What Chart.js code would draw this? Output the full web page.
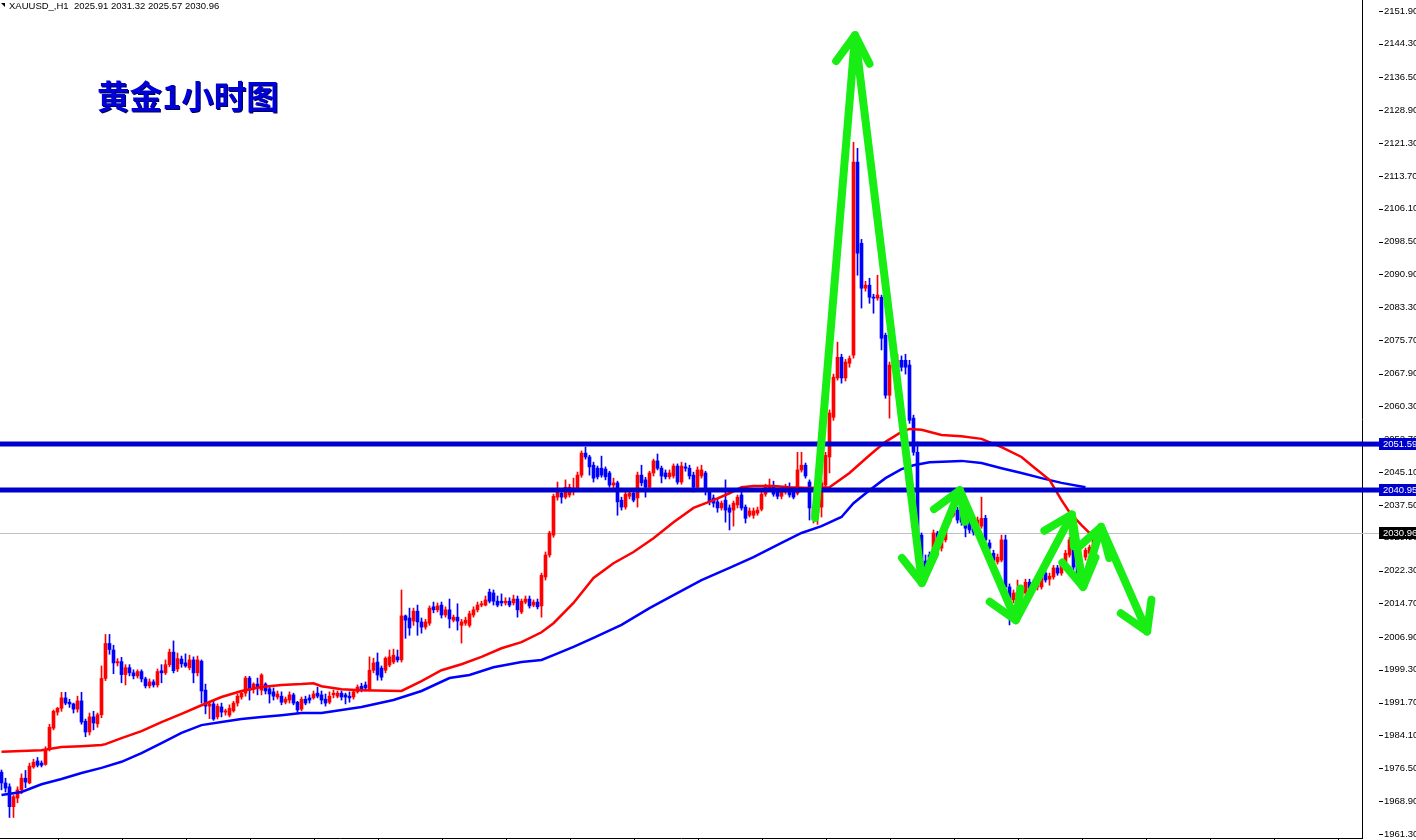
<!DOCTYPE html>
<html>
<head>
<meta charset="utf-8">
<script src="https://cdn.jsdelivr.net/npm/chart.js@4.4.0/dist/chart.umd.min.js"></script>
<style>
  html, body { margin: 0; padding: 0; background: #fff; }
  #wrap { position: relative; width: 1416px; height: 840px; overflow: hidden; }
  #c { position: absolute; left: 0; top: 0; }
  #hdr { position: absolute; left: 9px; top: 0; font: 9.5px 'Liberation Sans', sans-serif; line-height: 11px; color: #000; white-space: pre; }
  #mark { position: absolute; left: 1px; top: 3px; width: 0; height: 0; border-top: 4px solid #000; border-left: 4px solid transparent; }
  #title { position: absolute; left: 97px; top: 78px; font: bold 32.5px 'Noto Sans CJK SC', sans-serif; line-height: 33px; color: #0000d8; text-shadow: 1px 1px 0 #000050; }
</style>
</head>
<body>
<div id="wrap">
  <canvas id="c" width="1416" height="840"></canvas>
  <div id="mark"></div>
  <div id="hdr">XAUUSD_,H1  2025.91 2031.32 2025.57 2030.96</div>
  <div id="title">黄金1小时图</div>
</div>
<script>
// XAUUSD H1 candles, one entry per bar (oldest first)
const open = [
  1975.6,1973.1,1972.2,1967.6,1969.6,1971.5,1974.2,1973.1,1976.8,1978.2,
  1977.7,1977.4,1980.9,1985.8,1989.5,1990.4,1992.8,1991.8,1991.4,1990.2,
  1992.1,1987.4,1984.9,1988.4,1986.8,1988.9,1997.3,2005.4,2003.9,2000.9,
  2001.2,1998.2,1999.8,1998.6,1997.9,1998.9,1997.2,1995.6,1996.5,1995.8,
  1999.1,1998.6,2000.5,2003.4,1999.5,2001.8,2000.9,1999.8,2001.6,1998.6,
  2001.3,1994.6,1990.9,1991.4,1988.4,1990.7,1989.5,1988.8,1989.8,1991.6,
  1993.0,1993.9,1997.4,1994.9,1996.0,1994.6,1996.0,1994.9,1994.2,1993.0,
  1993.2,1991.8,1992.3,1993.5,1991.8,1990.2,1992.5,1992.8,1992.8,1993.9,
  1993.5,1992.5,1991.8,1993.5,1993.2,1993.9,1993.5,1993.2,1993.0,1994.2,
  1995.5,1995.8,1994.6,1999.2,2001.1,1999.7,1999.2,2000.4,2001.1,2002.3,
  2001.6,2011.8,2011.3,2010.6,2012.9,2010.4,2009.2,2010.1,2013.9,2013.2,
  2014.3,2012.0,2013.2,2010.8,2011.5,2009.6,2010.1,2009.6,2012.0,2013.2,
  2014.3,2014.3,2017.3,2017.1,2015.2,2015.2,2014.8,2015.2,2014.8,2015.7,
  2012.7,2015.0,2015.7,2014.3,2015.0,2014.1,2020.8,2025.9,2030.5,2039.3,
  2040.2,2039.3,2039.8,2040.7,2041.4,2044.4,2049.5,2048.6,2046.7,2046.0,
  2046.0,2045.8,2044.9,2042.1,2042.6,2038.6,2037.0,2039.5,2040.2,2039.1,
  2044.4,2043.3,2041.6,2044.9,2047.7,2046.0,2044.9,2044.0,2044.2,2046.5,
  2042.8,2046.3,2046.0,2044.4,2041.6,2044.2,2044.9,2040.5,2039.1,2038.2,
  2036.8,2038.6,2036.8,2036.3,2037.5,2039.8,2037.0,2035.1,2035.1,2035.6,
  2036.5,2040.0,2041.2,2041.9,2040.7,2039.5,2040.5,2040.9,2040.9,2040.2,
  2045.6,2046.7,2042.8,2034.7,2035.8,2037.0,2042.1,2048.6,2057.8,2066.9,
  2071.7,2066.9,2070.3,2072.2,2116.9,2098.1,2087.7,2088.4,2085.6,2085.4,
  2085.6,2076.8,2062.9,2069.2,2069.4,2071.0,2071.0,2069.9,2057.6,2049.7,
  2030.5,2024.5,2025.9,2025.4,2031.0,2027.5,2029.4,2033.5,2035.1,2036.3,
  2036.3,2035.6,2034.4,2034.4,2032.6,2032.6,2034.4,2028.7,2026.3,2024.3,
  2024.7,2029.4,2018.5,2015.5,2016.2,2016.2,2017.1,2019.6,2018.5,2018.5,
  2018.5,2021.7,2020.3,2020.8,2022.9,2021.7,2024.3,2025.9,2029.0,2023.5,
  2020.8,2025.4,2026.3,2025.91
];
const high = [
  1976.1,1974.2,1972.9,1970.3,1972.2,1975.2,1976.0,1977.7,1978.6,1979.0,
  1978.2,1981.5,1986.7,1990.0,1990.6,1994.1,1994.1,1992.5,1991.6,1993.2,
  1994.1,1987.9,1989.3,1989.7,1989.3,2000.2,2007.5,2007.5,2005.0,2001.9,
  2002.2,2000.5,2000.5,1999.3,1999.3,1999.3,1997.6,1997.2,1997.0,1999.5,
  2000.5,2001.6,2004.1,2006.0,2003.2,2002.5,2003.0,2002.7,2002.3,2002.5,
  2001.6,1996.0,1991.6,1992.0,1991.4,1991.6,1990.2,1991.2,1992.0,1993.7,
  1994.4,1997.8,1997.8,1996.3,1997.4,1998.4,1996.3,1995.3,1995.1,1994.4,
  1994.2,1993.0,1994.2,1993.9,1992.0,1993.0,1993.2,1993.5,1994.4,1995.3,
  1994.4,1993.7,1994.2,1994.6,1994.4,1994.4,1993.9,1994.2,1994.4,1995.8,
  1996.2,1996.5,2002.3,2002.0,2003.2,2000.2,2002.3,2003.9,2004.1,2003.9,
  2017.8,2012.0,2013.6,2013.6,2014.3,2011.3,2011.0,2014.1,2015.0,2014.8,
  2015.0,2013.9,2015.7,2012.0,2014.6,2011.0,2011.5,2012.9,2013.9,2015.0,
  2015.2,2016.4,2018.0,2017.8,2016.4,2016.9,2016.0,2016.0,2016.6,2016.4,
  2015.7,2016.4,2016.4,2015.5,2015.7,2021.7,2026.6,2031.4,2040.0,2042.8,
  2041.2,2043.3,2042.3,2043.7,2045.1,2050.0,2050.9,2049.0,2047.4,2046.5,
  2048.8,2046.3,2045.3,2043.7,2043.0,2039.3,2040.5,2040.9,2041.2,2045.1,
  2046.7,2043.9,2045.3,2048.1,2049.3,2046.5,2045.6,2045.6,2047.0,2047.0,
  2047.4,2047.2,2046.7,2045.1,2046.3,2046.7,2045.3,2041.2,2039.8,2038.9,
  2038.4,2043.3,2037.5,2038.4,2039.8,2040.5,2037.5,2036.8,2036.8,2037.0,
  2040.5,2042.3,2043.5,2043.0,2041.4,2041.2,2042.3,2042.6,2041.4,2049.7,
  2049.7,2047.2,2043.3,2037.5,2039.3,2043.3,2049.7,2059.5,2067.8,2075.2,
  2072.4,2071.2,2072.0,2121.5,2120.1,2099.0,2089.3,2090.0,2086.3,2090.7,
  2086.1,2077.3,2070.6,2071.7,2072.4,2072.0,2072.4,2071.0,2058.3,2052.1,
  2031.0,2025.9,2026.6,2031.7,2031.4,2030.0,2034.0,2036.1,2039.3,2037.0,
  2037.0,2036.3,2034.9,2035.1,2034.7,2039.3,2035.1,2029.4,2027.0,2026.1,
  2030.5,2030.5,2019.2,2017.8,2020.1,2018.9,2020.3,2020.3,2020.1,2020.1,
  2021.5,2022.4,2021.7,2023.5,2023.5,2024.9,2027.0,2030.0,2031.0,2024.0,
  2024.3,2027.5,2028.2,2031.32
];
const low = [
  1971.5,1971.0,1965.1,1965.1,1968.5,1970.6,1972.0,1972.9,1976.5,1976.8,
  1976.8,1977.2,1980.5,1985.4,1988.8,1989.7,1991.2,1990.6,1989.3,1989.5,
  1986.7,1983.8,1984.2,1985.4,1986.0,1988.2,1996.8,2002.9,1998.4,2000.2,
  1996.3,1995.8,1997.9,1997.2,1997.4,1996.5,1995.1,1995.1,1995.3,1995.3,
  1996.3,1998.2,2000.0,1998.6,1998.9,1999.9,1999.9,1999.3,1996.3,1997.9,
  1991.6,1989.1,1988.0,1987.6,1987.9,1988.4,1988.8,1988.4,1989.5,1990.9,
  1992.5,1993.2,1992.3,1993.9,1993.5,1993.5,1993.7,1991.6,1992.3,1992.5,
  1991.2,1991.4,1991.6,1991.2,1989.3,1989.8,1991.2,1991.6,1992.5,1992.8,
  1991.4,1990.9,1991.4,1992.8,1992.8,1992.3,1991.4,1991.8,1992.5,1993.9,
  1994.2,1994.4,1994.4,1998.6,1996.9,1996.9,1998.6,2000.0,2000.7,2001.1,
  2001.1,2006.6,2007.3,2009.6,2007.3,2007.8,2008.7,2009.6,2012.5,2012.7,
  2011.3,2011.5,2009.0,2010.4,2008.5,2005.5,2009.6,2009.2,2011.5,2012.7,
  2013.9,2014.1,2014.8,2014.3,2013.9,2014.1,2014.3,2013.9,2014.3,2011.5,
  2012.3,2014.6,2013.6,2013.9,2013.4,2011.5,2020.1,2025.4,2030.0,2038.6,
  2037.9,2038.9,2039.3,2039.8,2040.9,2043.9,2048.1,2044.4,2042.8,2043.5,
  2043.9,2043.3,2041.6,2041.4,2035.1,2036.3,2036.5,2038.9,2038.2,2037.0,
  2041.9,2039.3,2040.9,2044.2,2045.6,2042.6,2043.5,2043.5,2043.7,2042.3,
  2042.3,2045.3,2043.5,2040.5,2041.2,2043.7,2039.8,2037.5,2037.0,2035.8,
  2036.3,2033.5,2031.7,2032.6,2036.8,2036.3,2033.3,2034.7,2034.4,2035.1,
  2036.1,2039.5,2040.7,2039.5,2038.9,2038.9,2040.0,2039.3,2038.9,2039.8,
  2045.1,2043.7,2034.0,2033.3,2033.0,2034.7,2041.6,2044.9,2057.1,2066.4,
  2065.7,2066.2,2069.4,2071.5,2090.7,2083.1,2087.0,2084.2,2081.9,2084.9,
  2073.4,2062.2,2057.6,2068.5,2068.7,2068.5,2067.8,2056.4,2049.0,2029.4,
  2020.1,2020.6,2023.8,2024.9,2026.8,2026.8,2028.9,2033.0,2034.7,2033.3,
  2032.8,2030.1,2031.0,2030.5,2031.9,2032.1,2028.9,2026.8,2024.0,2023.8,
  2024.3,2015.9,2009.7,2014.8,2015.7,2015.7,2016.6,2017.5,2018.0,2017.8,
  2018.0,2019.6,2018.9,2020.3,2021.2,2021.2,2023.8,2025.4,2022.4,2019.4,
  2020.3,2024.7,2025.9,2025.57
];
const close = [
  1973.1,1971.9,1967.6,1969.9,1971.5,1974.2,1973.3,1977.0,1977.9,1977.2,
  1977.2,1980.9,1986.0,1989.7,1990.4,1992.8,1991.6,1991.4,1990.2,1992.1,
  1987.2,1984.9,1988.4,1987.0,1988.9,1997.3,2005.4,2004.0,2000.9,2001.2,
  1998.2,1999.8,1998.6,1997.9,1998.9,1997.2,1995.6,1996.5,1995.8,1998.9,
  1998.6,2000.5,2003.4,1999.1,2001.9,2000.7,2000.2,2001.6,1998.6,2001.6,
  1994.4,1990.9,1991.4,1987.9,1990.9,1989.5,1989.8,1990.4,1991.6,1993.2,
  1993.9,1997.4,1994.6,1996.0,1995.3,1998.1,1994.4,1993.7,1993.2,1993.7,
  1991.8,1992.5,1993.5,1991.6,1990.0,1992.5,1991.6,1992.3,1993.7,1993.2,
  1992.3,1991.6,1993.2,1993.9,1993.9,1993.0,1993.0,1992.8,1994.2,1995.3,
  1994.6,1995.1,1999.2,2000.9,1998.1,1997.6,2002.0,2002.3,2002.7,2001.6,
  2011.8,2010.8,2009.0,2012.9,2010.4,2009.2,2010.4,2013.6,2013.2,2014.1,
  2012.0,2013.2,2011.1,2011.5,2010.6,2010.4,2010.8,2012.3,2013.2,2014.3,
  2014.6,2015.5,2015.2,2015.2,2014.3,2014.8,2015.2,2014.3,2015.7,2013.2,
  2015.2,2015.7,2014.1,2015.0,2013.9,2021.2,2025.9,2031.0,2039.5,2040.5,
  2039.3,2041.6,2041.6,2041.4,2044.4,2049.5,2048.6,2046.3,2043.7,2044.0,
  2044.4,2044.0,2042.1,2042.6,2038.2,2037.0,2040.0,2040.2,2038.6,2044.4,
  2042.6,2041.6,2044.9,2047.7,2046.0,2044.2,2044.0,2044.9,2046.5,2042.8,
  2046.5,2046.0,2044.2,2041.6,2045.6,2045.6,2040.9,2038.2,2037.9,2036.8,
  2037.9,2036.3,2035.8,2037.9,2039.3,2036.8,2034.4,2036.1,2036.1,2036.3,
  2040.0,2041.9,2041.9,2040.0,2039.5,2040.5,2041.6,2039.8,2039.3,2045.6,
  2046.7,2044.2,2036.8,2036.8,2038.6,2042.6,2049.0,2058.8,2067.1,2071.7,
  2066.9,2070.6,2071.4,2116.9,2095.8,2087.7,2088.4,2085.6,2085.4,2086.1,
  2076.1,2062.9,2069.9,2071.0,2071.0,2069.4,2069.4,2057.1,2049.7,2030.5,
  2021.2,2022.0,2025.2,2031.0,2027.7,2029.4,2033.5,2035.6,2037.5,2034.0,
  2033.5,2032.1,2031.7,2031.2,2034.0,2034.4,2029.4,2027.5,2024.7,2025.4,
  2029.4,2018.5,2015.5,2017.1,2017.3,2018.2,2019.6,2018.2,2019.4,2019.6,
  2020.8,2020.1,2021.0,2022.9,2021.7,2024.3,2026.3,2029.4,2023.1,2020.1,
  2023.8,2027.0,2027.7,2030.96
];

// moving averages (bar index, price)
const redMaIdx = [0,5,10,15,20,25,26,30,35,40,45,50,55,60,65,70,75,78,80,85,90,100,105,110,115,120,125,130,135,138,
  143,148,153,158,163,168,173,178,182,185,188,193,197,202,207,212,217,221,225,227,230,235,240,245,250,255,258,262,265,267,270,273];
const redMaVal = [1980.3,1980.5,1980.7,1981.4,1981.6,1981.9,1982.1,1983.5,1985.1,1987.2,1989.1,1991.1,1993.0,1994.4,1995.3,1995.8,1996.0,1996.2,1995.5,1994.8,
  1994.6,1994.4,1996.7,1999.2,2000.6,2002.3,2004.3,2005.7,2008.0,2010.1,2014.8,2020.6,2024.0,2026.6,2029.8,2033.5,2036.8,2038.6,2040.2,2041.6,
  2041.9,2041.9,2041.6,2041.4,2041.6,2044.9,2049.0,2052.1,2054.4,2055.1,2054.9,2053.7,2053.4,2052.8,2050.9,2048.6,2046.3,2043.3,2038.6,2035.8,2032.8,2030.1];
const blueMaIdx = [0,5,10,15,20,25,30,35,40,45,50,55,60,65,70,75,80,85,90,98,105,112,117,123,130,135,138,143,148,155,
  162,168,175,182,188,195,200,205,210,213,217,221,225,228,232,240,245,250,255,260,265,271];
const blueMaVal = [1970.3,1971.0,1972.8,1974.0,1975.4,1976.6,1978.0,1980.0,1982.3,1984.7,1986.5,1987.2,1987.9,1988.4,1988.8,1989.3,1989.3,1990.0,1990.7,1992.3,
  1994.4,1997.4,1998.1,1999.9,2001.1,2001.6,2002.7,2004.6,2006.7,2009.7,2013.6,2016.6,2020.1,2022.9,2025.4,2028.7,2031.0,2032.6,2034.7,2037.9,
  2040.9,2043.7,2045.8,2046.7,2047.4,2047.7,2047.2,2046.0,2044.9,2043.7,2042.6,2041.6];

// horizontal levels and the hand-drawn zigzag forecast
const levels = [2051.59, 2040.95];
const arrowIdx = [203.4, 213.4, 230.1, 239.6, 253.6, 267.6, 270.4, 274.9, 286.4];
const arrowVal = [2034.5, 2146.3, 2019.4, 2040.9, 2010.8, 2035.3, 2018.5, 2032.4, 2008.2];

// price axis labels as MT4 shows them
const yTicks = [2151.90,2144.30,2136.50,2128.90,2121.30,2113.70,2106.10,2098.50,2090.90,2083.30,2075.70,2067.90,2060.30,
  2052.70,2045.10,2037.50,2029.90,2022.30,2014.70,2006.90,1999.30,1991.70,1984.10,1976.50,1968.90,1961.30];

const UP = '#ff0000', DOWN = '#0000ff', LEVEL = '#0000cd', GREEN = '#19ee14';
const X_MIN = -0.375, X_MAX = 340.125, Y_MIN = 1960.35, Y_MAX = 2154.45;
const LABEL_FONT = "9.5px 'Liberation Sans', sans-serif";
const lastPrice = close[close.length - 1];

const colors = open.map((o, i) => close[i] >= o ? UP : DOWN);
const wicks = open.map((o, i) => ({ x: i, y: [low[i], high[i]] }));
const bodies = open.map((o, i) => ({ x: i, y: [o, close[i]] }));
const pts = (xs, ys) => xs.map((x, i) => ({ x: x, y: ys[i] }));

const overlay = {
  id: 'overlay',
  beforeDatasetsDraw(chart) {
    const { ctx, chartArea, scales: { y } } = chart;
    const py = Math.round(y.getPixelForValue(lastPrice)) + 0.5;
    ctx.save();
    ctx.strokeStyle = '#c0c0c0';
    ctx.lineWidth = 1;
    ctx.beginPath();
    ctx.moveTo(chartArea.left, py);
    ctx.lineTo(chartArea.right, py);
    ctx.stroke();
    ctx.restore();
  },
  afterDatasetsDraw(chart) {
    // arrow heads at the end of every zigzag leg
    const ctx = chart.ctx;
    const meta = chart.getDatasetMeta(chart.data.datasets.length - 1);
    const p = meta.data;
    ctx.save();
    ctx.strokeStyle = GREEN;
    ctx.lineWidth = 8;
    ctx.lineCap = 'round';
    ctx.lineJoin = 'round';
    for (let j = 1; j < p.length; j++) {
      const a = Math.atan2(p[j].y - p[j - 1].y, p[j].x - p[j - 1].x);
      const len = 32, spread = 0.55;
      ctx.beginPath();
      ctx.moveTo(p[j].x - len * Math.cos(a - spread), p[j].y - len * Math.sin(a - spread));
      ctx.lineTo(p[j].x, p[j].y);
      ctx.lineTo(p[j].x - len * Math.cos(a + spread), p[j].y - len * Math.sin(a + spread));
      ctx.stroke();
    }
    ctx.restore();
  },
  afterDraw(chart) {
    const { ctx, chartArea, scales: { y } } = chart;
    const right = chartArea.right;
    const boxX = right + 17;
    ctx.save();
    // small tick dashes on the price axis
    ctx.strokeStyle = '#000';
    ctx.lineWidth = 1;
    y.ticks.forEach(t => {
      const py = Math.round(y.getPixelForValue(t.value)) + 0.5;
      ctx.beginPath();
      ctx.moveTo(boxX, py);
      ctx.lineTo(boxX + 4, py);
      ctx.stroke();
    });
    ctx.font = LABEL_FONT;
    ctx.textBaseline = 'middle';
    ctx.textAlign = 'left';
    // level extensions + labels
    levels.forEach(v => {
      const py = y.getPixelForValue(v);
      ctx.fillStyle = LEVEL;
      ctx.fillRect(right, py - 2.5, boxX - right, 5);
      ctx.fillRect(boxX, Math.round(py) - 6, chart.width - boxX, 12);
      ctx.fillStyle = '#fff';
      ctx.fillText(v.toFixed(2), boxX + 4, Math.round(py));
    });
    // current price line and box
    const py = Math.round(y.getPixelForValue(lastPrice));
    ctx.fillStyle = '#c0c0c0';
    ctx.fillRect(right, py, boxX - right, 1);
    ctx.fillStyle = '#000';
    ctx.fillRect(boxX, py - 6, chart.width - boxX, 12);
    ctx.fillStyle = '#fff';
    ctx.fillText(lastPrice.toFixed(2), boxX + 4, py);
    ctx.restore();
  }
};

new Chart(document.getElementById('c'), {
  type: 'bar',
  data: {
    datasets: [
      { type: 'bar', data: wicks, backgroundColor: colors, barThickness: 1, grouped: false, order: 5 },
      { type: 'bar', data: bodies, backgroundColor: colors, barThickness: 3, minBarLength: 1, grouped: false, order: 4 },
      { type: 'line', data: pts(blueMaIdx, blueMaVal), borderColor: '#0000ff', borderWidth: 2.5, pointRadius: 0, order: 3 },
      { type: 'line', data: pts(redMaIdx, redMaVal), borderColor: '#ff0000', borderWidth: 2.5, pointRadius: 0, order: 2 },
      ...levels.map(v => ({
        type: 'line', data: [{ x: X_MIN, y: v }, { x: X_MAX, y: v }],
        borderColor: LEVEL, borderWidth: 5, pointRadius: 0, order: 1
      })),
      { type: 'line', data: pts(arrowIdx, arrowVal), borderColor: GREEN, borderWidth: 8,
        borderCapStyle: 'round', borderJoinStyle: 'round', pointRadius: 0, order: 0 }
    ]
  },
  options: {
    responsive: false,
    animation: false,
    events: [],
    layout: { padding: 0, autoPadding: false },
    plugins: { legend: { display: false }, tooltip: { enabled: false } },
    scales: {
      x: {
        type: 'linear', min: X_MIN, max: X_MAX, offset: false,
        grid: { offset: false, drawOnChartArea: false, drawTicks: true, tickLength: 3, color: '#000' },
        border: { color: '#000', width: 1 },
        ticks: { display: false },
        afterBuildTicks: s => {
          const t = [];
          for (let v = 14.125; v < X_MAX; v += 16) t.push({ value: v });
          s.ticks = t;
        },
        afterFit: s => { s.height = 2; s.paddingLeft = 0; s.paddingRight = 0; }
      },
      y: {
        position: 'right', min: Y_MIN, max: Y_MAX,
        grid: { drawOnChartArea: false, drawTicks: false },
        border: { color: '#000', width: 1 },
        ticks: { padding: 22, color: '#000', font: { family: 'Liberation Sans', size: 9.5 },
          callback: v => v.toFixed(2) },
        afterBuildTicks: s => { s.ticks = yTicks.map(v => ({ value: v })); },
        afterFit: s => { s.width = 54; s.paddingTop = 0; s.paddingBottom = 0; }
      }
    }
  },
  plugins: [overlay]
});
</script>
</body>
</html>
